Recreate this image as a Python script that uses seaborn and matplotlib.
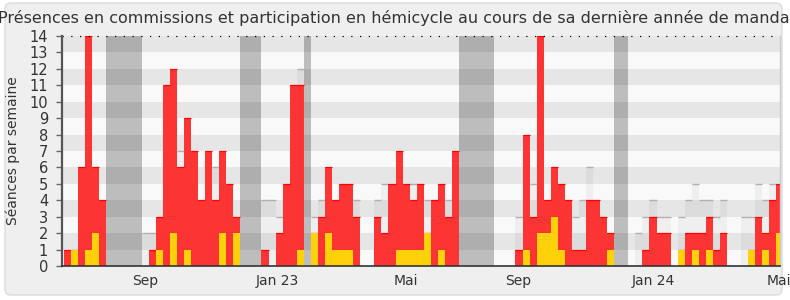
import numpy as np
import pandas as pd
import matplotlib
matplotlib.use("Agg")
import matplotlib.pyplot as plt
import seaborn as sns
from matplotlib.patches import FancyBboxPatch

# ---- data (one value per week) ----
commission = [1, 1, 6, 14, 6, 4, 0, 0, 0, 0,
              0, 0, 1, 3, 11, 12, 6, 9, 7, 4,
              7, 4, 7, 5, 3, 0, 0, 0, 1, 0,
              2, 5, 11, 11, 0, 2, 3, 6, 4, 5,
              5, 3, 0, 0, 3, 2, 5, 7, 5, 4,
              5, 2, 4, 5, 3, 7, 0, 0, 0, 0,
              0, 0, 0, 0, 1, 8, 3, 14, 4, 6,
              5, 4, 1, 1, 4, 4, 3, 2, 0, 0,
              0, 0, 1, 3, 2, 2, 0, 1, 2, 2,
              2, 3, 1, 2, 0, 0, 0, 1, 3, 2,
              4, 5]
hemicycle = [0, 1, 0, 1, 2, 0, 0, 0, 0, 0,
             0, 0, 0, 1, 0, 2, 0, 1, 0, 0,
             0, 0, 2, 0, 2, 0, 0, 0, 0, 0,
             0, 0, 0, 1, 0, 2, 0, 2, 1, 1,
             1, 0, 0, 0, 0, 0, 0, 1, 1, 1,
             1, 2, 0, 1, 0, 0, 0, 0, 0, 0,
             0, 0, 0, 0, 0, 1, 0, 2, 2, 3,
             1, 0, 0, 0, 0, 0, 0, 1, 0, 0,
             0, 0, 0, 0, 0, 0, 0, 1, 0, 1,
             0, 1, 0, 0, 0, 0, 0, 1, 0, 1,
             0, 2]
mediane = [0, 0, 0, 0, 0, 0, 0, 0, 0, 0,
           0, 2, 2, 0, 0, 0, 7, 0, 0, 0,
           0, 6, 0, 0, 0, 0, 0, 0, 4, 4,
           3, 0, 0, 12, 0, 3, 4, 0, 0, 0,
           0, 4, 0, 0, 4, 5, 0, 0, 0, 5,
           0, 4, 0, 0, 4, 0, 0, 0, 0, 0,
           0, 0, 0, 0, 3, 0, 5, 0, 0, 0,
           0, 0, 3, 4, 6, 0, 0, 0, 0, 0,
           0, 2, 3, 4, 3, 3, 0, 3, 4, 5,
           4, 4, 3, 4, 0, 0, 3, 3, 5, 4,
           5, 0]
vacances = [(6, 11), (25, 28), (34, 35), (56, 61), (78, 80)]  # week ranges [start, end)
mois_labels = ["Sep", "Jan 23", "Mai", "Sep", "Jan 24", "Mai"]
mois_semaines = [11.45, 30.2, 48.45, 64.45, 83.5, 101.35]

titre = "Présences en commissions et participation en hémicycle au cours de sa dernière année de mandat"
ylabel = "Séances par semaine"

weeks = np.arange(len(commission))
df = pd.DataFrame({"semaine": weeks, "commission": commission,
                   "hemicycle": hemicycle, "mediane": mediane})

sns.set_theme(style="white")
plt.rcParams["font.family"] = ["DejaVu Sans"]

W, H = 7.9, 3.0
fig = plt.figure(figsize=(W, H), dpi=100, facecolor="white")
box = FancyBboxPatch((0.05, 0.05), W - 0.13, H - 0.08,
                     boxstyle="round,pad=0,rounding_size=0.06",
                     transform=fig.dpi_scale_trans, facecolor="#efefef",
                     edgecolor="#dcdcdc", linewidth=1.0, zorder=-10)
fig.patches.append(box)

ax = fig.add_axes([62 / 790, 34 / 300, 718 / 790, 230 / 300])
ax.set_facecolor("#f9f9f9")

# holidays
for a, b in vacances:
    ax.axvspan(a - 0.5, b - 0.5, color="#bdbdbd", lw=0, zorder=0.5)
# stripes
for k in range(1, 14, 2):
    ax.axhspan(k, k + 1, color="black", alpha=0.075, lw=0, zorder=1)

sns.barplot(data=df, x="semaine", y="mediane", native_scale=True, width=1,
            color="black", alpha=0.04, saturation=1, errorbar=None,
            linewidth=0, zorder=2, ax=ax)
m = df["mediane"] > 0
ax.hlines(df.loc[m, "mediane"], df.loc[m, "semaine"] - 0.5, df.loc[m, "semaine"] + 0.5,
          color="#b0b0b0", lw=1.0, zorder=2.5)

sns.barplot(data=df, x="semaine", y="commission", native_scale=True, width=1,
            color="#fd3434", saturation=1, errorbar=None,
            linewidth=0, zorder=3, ax=ax)
m = df["commission"] > 0
ax.hlines(df.loc[m, "commission"], df.loc[m, "semaine"] - 0.5, df.loc[m, "semaine"] + 0.5,
          color="#ff0000", lw=0.9, zorder=3.5)

sns.barplot(data=df, x="semaine", y="hemicycle", native_scale=True, width=1,
            color="#ffd10a", saturation=1, errorbar=None,
            linewidth=0, zorder=4, ax=ax)

ax.axhline(14, color="black", lw=0.9, ls=(0, (1, 6)), zorder=6, clip_on=False)

ax.set_xlim(-0.78, 101.0)
ax.set_ylim(0, 14)
ax.set_yticks(range(0, 15))
ax.set_yticklabels([str(v) for v in range(0, 15)])
ax.set_xticks([p - 0.5 for p in mois_semaines])
ax.set_xticklabels(mois_labels)
ax.set_xlabel("")
ax.set_ylabel("")
ax.tick_params(axis="y", length=4, width=1, color="#666666", pad=6,
               labelsize=10.5, labelcolor="#333333", left=True)
ax.tick_params(axis="x", length=0, pad=6, labelsize=10, labelcolor="#333333")
ax.grid(False)

ax.spines["top"].set_visible(False)
ax.spines["right"].set_color("#cccccc")
ax.spines["right"].set_linewidth(1)
ax.spines["left"].set_color("#555555")
ax.spines["left"].set_linewidth(1.6)
ax.spines["bottom"].set_color("#333333")
ax.spines["bottom"].set_linewidth(1.2)
for s in ax.spines.values():
    s.set_zorder(7)

fig.text(397 / 790, 1 - 23 / 300, titre, ha="center", va="baseline",
         fontsize=11.5, color="#333333")
fig.text(12.5 / 790, 1 - 151 / 300, ylabel, ha="center", va="center",
         rotation=90, fontsize=10, color="#333333")

fig.savefig("out.png", dpi=100, facecolor="white")
